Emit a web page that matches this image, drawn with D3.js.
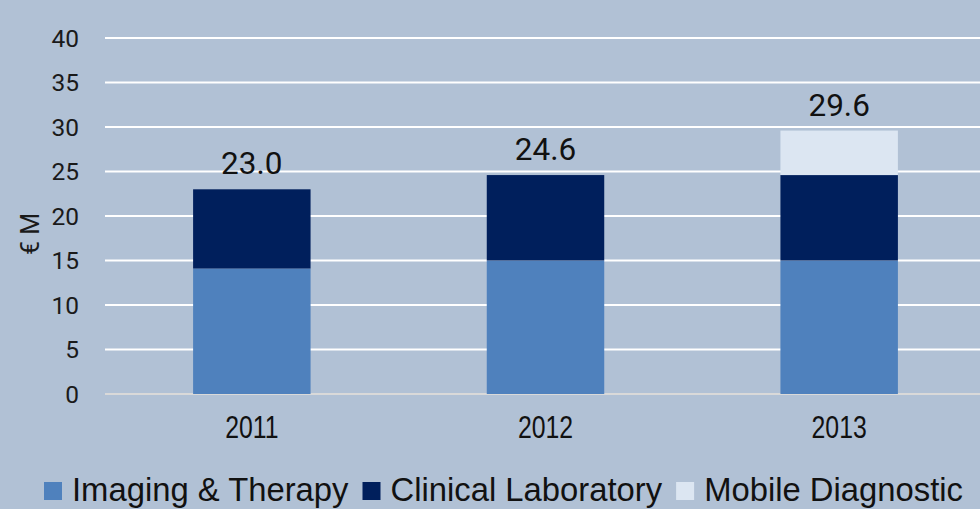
<!DOCTYPE html>
<html>
<head>
<meta charset="utf-8">
<script src="https://cdn.jsdelivr.net/npm/d3@7"></script>
<style>
  html, body { margin: 0; padding: 0; background: #b1c1d5; }
  svg { display: block; }
</style>
</head>
<body>
<svg id="chart" width="980" height="509"></svg>
<script>
  // ----------
  var years = ['2011', '2012', '2013'];
  var imaging = [14.1, 15.0, 15.0];
  var clinical = [8.9, 9.6, 9.6];
  var mobile = [0, 0, 5.0];
  var totals = ['23.0', '24.6', '29.6'];
  var seriesNames = ['Imaging & Therapy', 'Clinical Laboratory', 'Mobile Diagnostic'];
  var seriesColors = ['#4f81bd', '#001f5c', '#dce6f2'];
  var yTicks = [0, 5, 10, 15, 20, 25, 30, 35, 40];

  // ----------
  var svg = d3.select('#chart');
  var plotLeft = 105, plotRight = 986, plotTop = 38, plotBottom = 394;

  var x = d3.scaleBand().domain(years).range([plotLeft, plotRight]).padding(0);
  var y = d3.scaleLinear().domain([0, 40]).range([plotBottom, plotTop]);
  var barWidth = x.bandwidth() * 0.4;

  // gridlines
  svg.append('g')
    .selectAll('line')
    .data(yTicks)
    .enter().append('line')
    .attr('x1', plotLeft)
    .attr('x2', plotRight)
    .attr('y1', function(d) { return y(d); })
    .attr('y2', function(d) { return y(d); })
    .attr('stroke', function(d) { return d === 0 ? '#d9d9d9' : '#ffffff'; })
    .attr('stroke-width', 2);

  // y tick labels
  svg.append('g')
    .selectAll('text')
    .data(yTicks)
    .enter().append('text')
    .attr('x', 79)
    .attr('y', function(d) { return y(d); })
    .attr('dy', '0.36em')
    .attr('text-anchor', 'end')
    .attr('font-family', 'Roboto, sans-serif')
    .attr('font-size', 24.5)
    .attr('fill', '#1a1a1a')
    .text(function(d) { return d; });

  // y title
  svg.append('text')
    .attr('transform', 'translate(39,234) rotate(-90)')
    .attr('text-anchor', 'middle')
    .attr('font-family', 'Roboto, sans-serif')
    .attr('font-size', 25)
    .attr('fill', '#1a1a1a')
    .text('€ M');

  // stacked bars
  var stack = d3.stack().keys([0, 1, 2]).value(function(d, k) { return d[k]; });
  var rows = years.map(function(yr, i) { return [imaging[i], clinical[i], mobile[i]]; });
  var layers = stack(rows);

  layers.forEach(function(layer, k) {
    svg.append('g')
      .selectAll('rect')
      .data(layer.map(function(d, i) { return { y0: d[0], y1: d[1], year: years[i] }; }))
      .enter().append('rect')
      .filter(function(d) { return d.y1 > d.y0; })
      .attr('x', function(d) { return x(d.year) + (x.bandwidth() - barWidth) / 2; })
      .attr('width', barWidth)
      .attr('y', function(d) { return y(d.y1); })
      .attr('height', function(d) { return y(d.y0) - y(d.y1); })
      .attr('fill', seriesColors[k]);
  });

  // total labels
  svg.append('g')
    .selectAll('text')
    .data(years)
    .enter().append('text')
    .attr('x', function(d) { return x(d) + x.bandwidth() / 2; })
    .attr('y', function(d, i) { return y(imaging[i] + clinical[i] + mobile[i]) - 15; })
    .attr('text-anchor', 'middle')
    .attr('font-family', 'Roboto, sans-serif')
    .attr('font-size', 31.5)
    .attr('fill', '#111111')
    .text(function(d, i) { return totals[i]; });

  // x labels (condensed)
  svg.append('g')
    .selectAll('text')
    .data(years)
    .enter().append('text')
    .attr('transform', function(d) {
      return 'translate(' + (x(d) + x.bandwidth() / 2) + ',438) scale(0.8,1)';
    })
    .attr('text-anchor', 'middle')
    .attr('font-family', '"Liberation Sans", Arial, sans-serif')
    .attr('font-size', 31)
    .attr('fill', '#111111')
    .text(function(d) { return d; });

  // legend
  var legend = svg.append('g');
  var lx = 44;
  seriesNames.forEach(function(name, k) {
    legend.append('rect')
      .attr('x', lx)
      .attr('y', 482)
      .attr('width', 18)
      .attr('height', 18)
      .attr('fill', seriesColors[k]);
    var t = legend.append('text')
      .attr('x', lx + 28)
      .attr('y', 501)
      .attr('font-family', '"Liberation Sans", Arial, sans-serif')
      .attr('font-size', 32.8)
      .attr('fill', '#111111')
      .text(name);
    lx = lx + 28 + t.node().getComputedTextLength() + 14;
  });
</script>
</body>
</html>
